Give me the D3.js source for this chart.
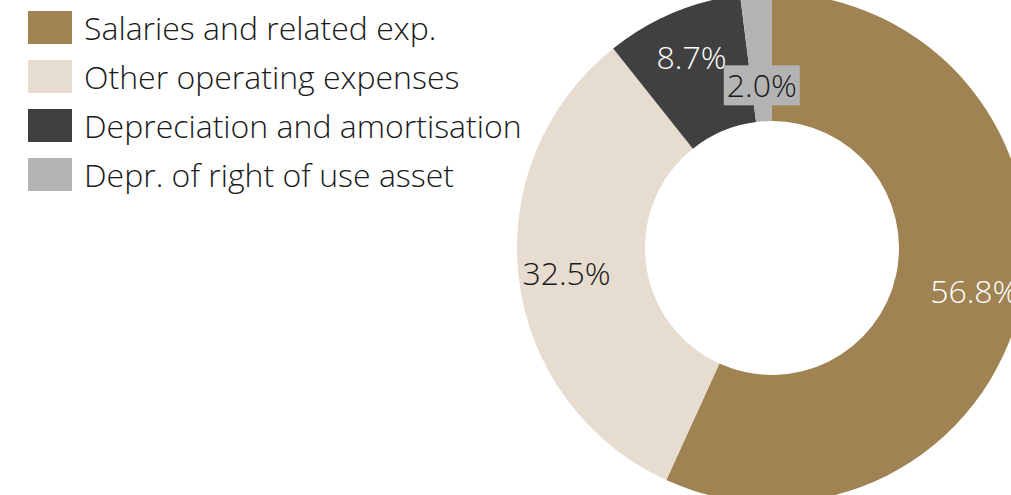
<!DOCTYPE html>
<html>
<head>
<meta charset="utf-8">
<script src="https://cdn.jsdelivr.net/npm/d3@7"></script>
<style>
  html, body { margin: 0; padding: 0; background: #fff; }
  svg { display: block; }
  text { font-family: "Open Sans", "Noto Sans", sans-serif; font-weight: 300; font-variant-ligatures: none; }
</style>
</head>
<body>
<svg id="chart" width="1011" height="495"></svg>
<script>
// ── Data ──────────────────────────────────────────────────────────────────────
const categories = [
  'Salaries and related exp.',
  'Other operating expenses',
  'Depreciation and amortisation',
  'Depr. of right of use asset'
];
const shares = [56.8, 32.5, 8.7, 2.0];
const labels = ['56.8%', '32.5%', '8.7%', '2.0%'];

const colors     = ['#a08352', '#e6dccf', '#404040', '#b3b3b3'];
const textColors = ['#ffffff', '#1a1a1a', '#ffffff', '#1a1a1a'];

// ── Layout ────────────────────────────────────────────────────────────────────
const cx = 772, cy = 248;
const outerR = 255, innerR = 127;
const labelR = 207;
const fontSize = 32;

const svg = d3.select('#chart');

// ── Donut ─────────────────────────────────────────────────────────────────────
const rows = categories.map((c, i) => ({ name: c, value: shares[i], i }));
const pie = d3.pie().sort(null).value(d => d.value);
const arcs = pie(rows);

const arc = d3.arc().innerRadius(innerR).outerRadius(outerR);
const labelArc = d3.arc().innerRadius(labelR).outerRadius(labelR);
const smallArc = d3.arc().innerRadius(163).outerRadius(163);

const g = svg.append('g').attr('transform', `translate(${cx},${cy})`);

g.selectAll('path.slice')
  .data(arcs)
  .enter().append('path')
    .attr('class', 'slice')
    .attr('d', arc)
    .attr('fill', d => colors[d.data.i]);

// labels — the tiny slice gets a boxed label pulled inward
const lab = g.selectAll('g.lab')
  .data(arcs)
  .enter().append('g')
    .attr('class', 'lab')
    .attr('transform', d => {
      const small = d.data.value < 5;
      const [x, y] = (small ? smallArc : labelArc).centroid(d);
      return `translate(${x},${y})`;
    });

lab.append('text')
  .attr('text-anchor', 'middle')
  .attr('dy', '0.36em')
  .attr('font-size', fontSize)
  .attr('fill', d => textColors[d.data.i])
  .text(d => labels[d.data.i]);

lab.filter(d => d.data.value < 5).each(function(d) {
  const sel = d3.select(this);
  const bb = sel.select('text').node().getBBox();
  sel.insert('rect', 'text')
    .attr('x', bb.x - 3).attr('y', -20)
    .attr('width', bb.width + 6).attr('height', 40)
    .attr('fill', colors[d.data.i]);
});

// ── Legend ────────────────────────────────────────────────────────────────────
const legend = svg.append('g').attr('transform', 'translate(28,11)');
const item = legend.selectAll('g')
  .data(categories)
  .enter().append('g')
    .attr('transform', (d, i) => `translate(0,${i * 49})`);

item.append('rect')
  .attr('width', 44).attr('height', 33)
  .attr('fill', (d, i) => colors[i]);

item.append('text')
  .attr('x', 56).attr('y', 17)
  .attr('dy', '0.36em')
  .attr('font-size', fontSize)
  .attr('fill', '#1a1a1a')
  .text(d => d);
</script>
</body>
</html>
